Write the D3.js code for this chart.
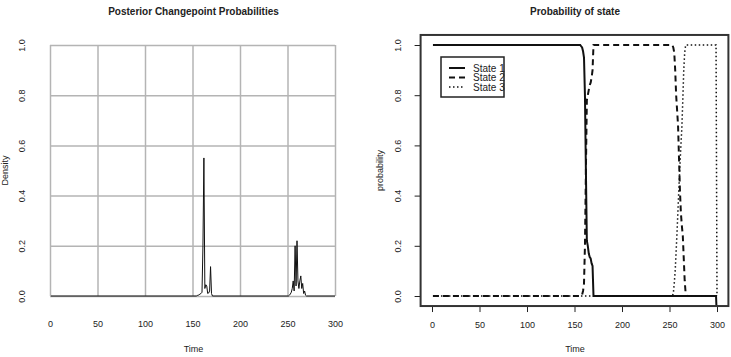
<!DOCTYPE html>
<html lang="en">

<head>
  <meta charset="UTF-8">
  <title>Changepoint and state probabilities</title>
  <script src="https://d3js.org/d3.v7.min.js"></script>
  <style>
    body {
      margin: 0;
      background: #fff;
    }

    svg text {
      font-family: "Liberation Sans", Arial, sans-serif;
      fill: #222;
    }
  </style>
</head>

<body>
  <div id="chart"></div>

  <script>
    // posterior changepoint probabilities (only the non-zero stretch is listed, the rest is 0)
    const cpTime = [1, 154, 155, 156, 157, 158, 159, 160, 161, 162, 163, 164, 165, 166, 167, 168, 169, 170, 171,
      251, 252, 253, 254, 255, 256, 257, 258, 259, 260, 261, 262, 263, 264, 265, 266, 267, 268, 269, 270, 300];
    const cpProb = [0, 0, 0.002, 0.003, 0.005, 0.008, 0.01, 0.015, 0.2, 0.55, 0.03, 0.045, 0.04, 0.01, 0.012, 0.02, 0.117, 0.01, 0,
      0, 0.003, 0.008, 0.015, 0.03, 0.06, 0.02, 0.2, 0.04, 0.22, 0.06, 0.03, 0.06, 0.08, 0.03, 0.05, 0.01, 0.02, 0.003, 0, 0];

    // probability of each state, at the times where the curve changes
    const s1Time = [1, 156, 157, 158, 159, 160, 161, 162, 163, 164, 165, 166, 167, 168, 169, 170, 299, 300];
    const s1Prob = [1, 1, 0.995, 0.99, 0.975, 0.95, 0.8, 0.5, 0.22, 0.2, 0.17, 0.155, 0.15, 0.13, 0.12, 0, 0, -0.1];

    const s2Time = [1, 157, 158, 159, 160, 161, 162, 163, 164, 165, 166, 167, 168, 169, 170,
      253, 254, 255, 256, 257, 258, 259, 260, 261, 262, 263, 264, 265, 266, 267, 268, 300];
    const s2Prob = [0, 0, 0.005, 0.02, 0.05, 0.2, 0.5, 0.78, 0.8, 0.82, 0.84, 0.85, 0.87, 0.9, 1,
      1, 0.99, 0.97, 0.9, 0.8, 0.74, 0.68, 0.55, 0.42, 0.33, 0.28, 0.24, 0.15, 0.06, 0.01, 0, 0];

    const s3Time = [1, 253, 254, 255, 256, 257, 258, 259, 260, 261, 262, 263, 264, 265, 266, 267, 299, 300];
    const s3Prob = [0, 0, 0.01, 0.05, 0.1, 0.18, 0.26, 0.35, 0.44, 0.52, 0.6, 0.67, 0.78, 0.9, 0.97, 1, 1, 0];

    const timeTicks = [0, 50, 100, 150, 200, 250, 300];
    const probTicks = [0, 0.2, 0.4, 0.6, 0.8, 1.0];
    const stateNames = ["State 1", "State 2", "State 3"];

    const width = 731, height = 357;

    const svg = d3.select("#chart")
      .append("svg")
      .attr("width", width)
      .attr("height", height);

    // ---------- left panel ----------
    const lx = d3.scaleLinear().domain([0, 300]).range([50, 335]);
    const ly = d3.scaleLinear().domain([0, 1]).range([296, 45]);

    const left = svg.append("g");

    // grid
    left.append("g")
      .attr("transform", "translate(0,296)")
      .call(d3.axisBottom(lx).tickValues(timeTicks).tickSize(-251).tickFormat(""))
      .call(g => g.select(".domain").remove())
      .call(g => g.selectAll("line").attr("stroke", "#b4b4b4").attr("stroke-width", 1.5));

    left.append("g")
      .attr("transform", "translate(50,0)")
      .call(d3.axisLeft(ly).tickValues(probTicks).tickSize(-285).tickFormat(""))
      .call(g => g.select(".domain").remove())
      .call(g => g.selectAll("line").attr("stroke", "#b4b4b4").attr("stroke-width", 1.5));

    // tick labels
    left.append("g")
      .attr("transform", "translate(0,296)")
      .call(d3.axisBottom(lx).tickValues(timeTicks).tickSize(0).tickPadding(25))
      .call(g => g.select(".domain").remove())
      .call(g => g.selectAll("text").attr("font-size", 9).attr("font-family", null));

    left.append("g")
      .attr("transform", "translate(25,0)")
      .call(d3.axisLeft(ly).tickValues(probTicks).tickSize(0).tickFormat(d3.format(".1f")))
      .call(g => g.select(".domain").remove())
      .call(g => g.selectAll("text")
        .attr("font-size", 9).attr("font-family", null)
        .attr("x", 0).attr("dy", null)
        .attr("text-anchor", "middle")
        .attr("transform", "rotate(-90)"));

    left.selectAll(".tick text").filter(function () { return this.getAttribute("transform"); })
      .each(function () {
        const t = d3.select(this.parentNode).attr("transform");
        const yy = +t.match(/,([\d.\-]+)/)[1];
        d3.select(this).attr("transform", null);
        d3.select(this.parentNode).attr("transform", `translate(0,${yy}) rotate(-90)`);
      });

    // changepoint line
    const cpData = cpTime.map((t, i) => [t, cpProb[i]]);
    left.append("path")
      .datum(cpData)
      .attr("fill", "none")
      .attr("stroke", "#111")
      .attr("stroke-width", 1)
      .attr("d", d3.line().x(d => lx(d[0])).y(d => ly(d[1])));

    left.append("text")
      .attr("x", lx(150) + 1)
      .attr("y", 15)
      .attr("text-anchor", "middle")
      .attr("font-size", 10)
      .attr("font-weight", "bold")
      .text("Posterior Changepoint Probabilities");

    left.append("text")
      .attr("x", lx(150) + 1)
      .attr("y", 352)
      .attr("text-anchor", "middle")
      .attr("font-size", 9)
      .text("Time");

    left.append("text")
      .attr("transform", `translate(8,${ly(0.5)}) rotate(-90)`)
      .attr("text-anchor", "middle")
      .attr("font-size", 9)
      .text("Density");

    // ---------- right panel ----------
    const rx = d3.scaleLinear().domain([0, 300]).range([432, 717]);
    const ry = d3.scaleLinear().domain([0, 1]).range([296, 45]);

    const right = svg.append("g");

    right.append("clipPath").attr("id", "rclip")
      .append("rect")
      .attr("x", rx(-12)).attr("y", ry(1.04))
      .attr("width", rx(312) - rx(-12))
      .attr("height", ry(-0.04) - ry(1.04));

    right.append("g")
      .attr("transform", `translate(0,${ry(-0.04)})`)
      .call(d3.axisBottom(rx).tickValues(timeTicks).tickSize(6).tickPadding(10))
      .call(g => g.select(".domain").remove())
      .call(g => g.selectAll("line").attr("stroke", "#222").attr("stroke-width", 1))
      .call(g => g.selectAll("text").attr("font-size", 9).attr("font-family", null));

    const ryAxis = right.append("g")
      .attr("transform", `translate(${rx(-12)},0)`)
      .call(d3.axisLeft(ry).tickValues(probTicks).tickSize(6).tickFormat(d3.format(".1f")))
      .call(g => g.select(".domain").remove())
      .call(g => g.selectAll("line").attr("stroke", "#222").attr("stroke-width", 1));

    ryAxis.selectAll("text")
      .attr("font-size", 9).attr("font-family", null)
      .attr("x", null).attr("dy", null)
      .attr("text-anchor", "middle")
      .attr("transform", "translate(-23,0) rotate(-90)")
      .attr("y", 3);

    // state curves
    const lineR = d3.line().x(d => rx(d[0])).y(d => ry(d[1]));
    const states = [
      { time: s1Time, prob: s1Prob, dash: null, w: 2 },
      { time: s2Time, prob: s2Prob, dash: "6,4", w: 2 },
      { time: s3Time, prob: s3Prob, dash: "1.5,2.5", w: 1.5 }
    ];

    const curves = right.append("g").attr("clip-path", "url(#rclip)");
    states.forEach(s => {
      curves.append("path")
        .datum(s.time.map((t, i) => [t, s.prob[i]]))
        .attr("fill", "none")
        .attr("stroke", "#111")
        .attr("stroke-width", s.w)
        .attr("stroke-dasharray", s.dash)
        .attr("d", lineR);
    });

    // box
    right.append("rect")
      .attr("x", rx(-12)).attr("y", ry(1.04))
      .attr("width", rx(312) - rx(-12))
      .attr("height", ry(-0.04) - ry(1.04))
      .attr("fill", "none")
      .attr("stroke", "#333")
      .attr("stroke-width", 2);

    // legend
    const legend = right.append("g").attr("transform", "translate(441,57)");
    legend.append("rect")
      .attr("width", 63).attr("height", 40)
      .attr("fill", "#fff")
      .attr("stroke", "#222")
      .attr("stroke-width", 1.5);

    stateNames.forEach((name, i) => {
      const yy = 11 + i * 9.5;
      legend.append("line")
        .attr("x1", 8).attr("x2", 24)
        .attr("y1", yy).attr("y2", yy)
        .attr("stroke", "#111")
        .attr("stroke-width", states[i].w)
        .attr("stroke-dasharray", states[i].dash);
      legend.append("text")
        .attr("x", 32).attr("y", yy + 3.5)
        .attr("font-size", 10)
        .text(name);
    });

    right.append("text")
      .attr("x", 575)
      .attr("y", 15)
      .attr("text-anchor", "middle")
      .attr("font-size", 10)
      .attr("font-weight", "bold")
      .text("Probability of state");

    right.append("text")
      .attr("x", 575)
      .attr("y", 352)
      .attr("text-anchor", "middle")
      .attr("font-size", 9)
      .text("Time");

    right.append("text")
      .attr("transform", `translate(383,${ry(0.5)}) rotate(-90)`)
      .attr("text-anchor", "middle")
      .attr("font-size", 9)
      .text("probability");
  </script>
</body>

</html>
